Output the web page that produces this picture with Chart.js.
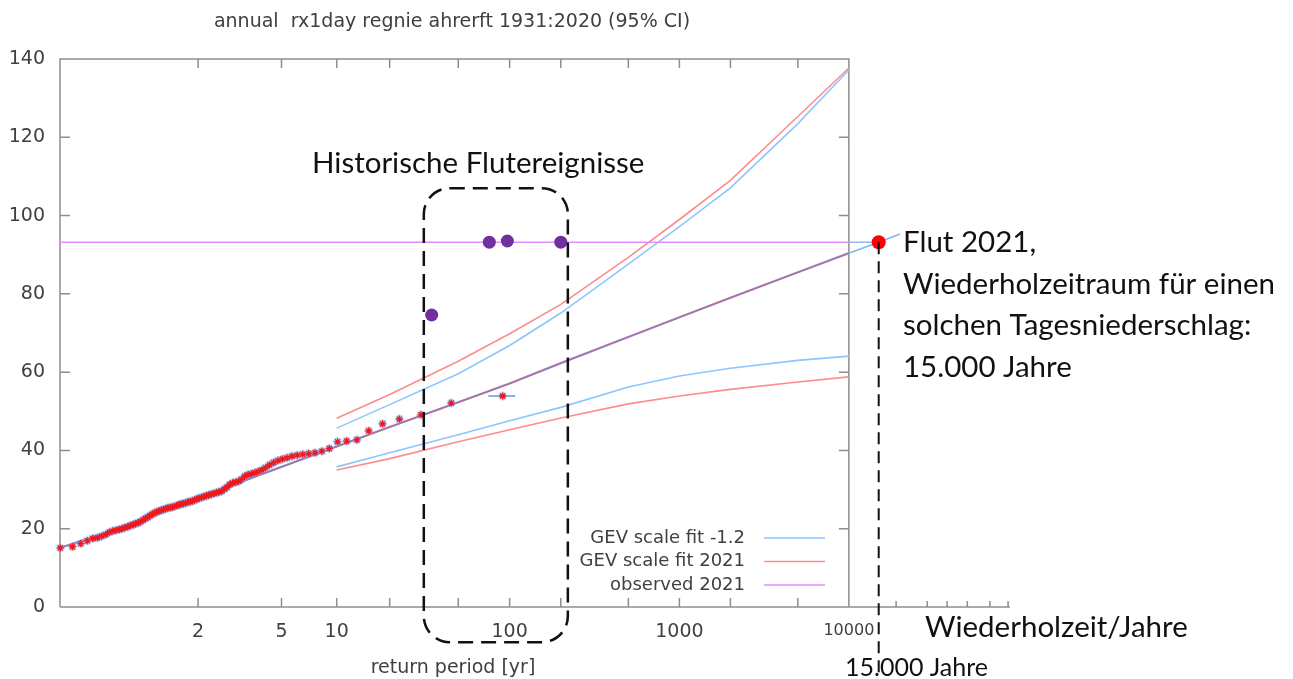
<!DOCTYPE html>
<html>
<head>
<meta charset="utf-8">
<script src="https://cdn.jsdelivr.net/npm/chart.js@4.4.0/dist/chart.umd.min.js"></script>
<style>
  html, body { margin: 0; padding: 0; background: #fff; }
</style>
</head>
<body>
<canvas id="chart" width="1293" height="679"></canvas>
<script>
// Gumbel plot: x = reduced variate of the return period
const rv = T => -Math.log(-Math.log(1 - 1 / T));

// observed annual maxima (sorted), plotted at rank i / (n+1)
const observedValues = [
  15.1, 15.4, 16.2, 16.9, 17.5, 17.7, 18.1, 18.5, 19.1, 19.4,
  19.6, 19.8, 20.0, 20.3, 20.5, 20.8, 21.0, 21.3, 21.5, 21.8,
  22.2, 22.6, 22.9, 23.3, 23.7, 24.0, 24.3, 24.5, 24.7, 24.9,
  25.1, 25.3, 25.4, 25.5, 25.7, 25.9, 26.1, 26.3, 26.4, 26.6,
  26.8, 26.9, 27.1, 27.3, 27.6, 27.8, 28.0, 28.2, 28.4, 28.6,
  28.8, 29.0, 29.2, 29.4, 29.6, 30.1, 30.6, 31.3, 31.7, 31.9,
  32.1, 32.6, 33.4, 33.8, 34.0, 34.3, 34.6, 35.0, 35.6, 36.3,
  36.9, 37.4, 37.8, 38.1, 38.5, 38.8, 39.0, 39.2, 39.4, 39.8,
  40.5, 42.2, 42.4, 42.7, 45.0, 46.8, 48.0, 49.1, 52.1, 53.9
];
const maxErrPeriods = [75, 108];

// GEV fits
const fitPeriods = [1.01, 1.1, 1.5, 2, 3, 5, 10, 20, 50, 100, 200, 500, 1000, 2000, 5000, 10000];
const fitCentral = [15.0, 19.0, 24.6, 27.8, 31.6, 35.8, 41.0, 46.0, 52.3, 57.1, 62.3, 69.0, 74.0, 79.0, 85.5, 90.4];
const extPeriods = [10000, 15000, 20000];
const extCentral = [90.4, 93.2, 95.3];

const ciPeriods = [10, 20, 50, 100, 200, 500, 1000, 2000, 5000, 10000];
const blueUpper = [45.7, 51.7, 59.6, 66.8, 75.1, 87.6, 97.2, 107.1, 123.5, 137.2];
const redUpper  = [48.2, 54.3, 62.8, 69.8, 77.3, 89.3, 99.0, 109.0, 125.3, 137.7];
const blueLower = [35.8, 39.4, 44.0, 47.6, 51.0, 56.2, 59.0, 61.0, 63.0, 64.1];
const redLower  = [35.0, 37.9, 42.2, 45.3, 48.3, 51.9, 53.9, 55.6, 57.5, 58.8];

// observed 2021 and historic floods
const observedPeriods = [1.01, 10000];
const observed2021 = 93.2;
const flood2021Period = 15000;
const historicPeriods = [35, 76, 97, 200];
const historicValues = [74.6, 93.2, 93.5, 93.2];

// axes
const yTickValues = [0, 20, 40, 60, 80, 100, 120, 140];
const xTickPeriods = [2, 5, 10, 20, 50, 100, 200, 500, 1000, 2000, 5000, 10000];
const xTickLabels = ['2', '5', '10', '', '', '100', '', '', '1000', '', '', '10000'];
const extTickPeriods = [19000, 29000, 38000, 50000, 68000, 87000];
const legendLabels = ['GEV scale fit -1.2', 'GEV scale fit 2021', 'observed 2021'];
const boxPeriods = [31.5, 220];
const boxValues = [-9, 107];

const BLUE = '#8ec5ff', RED = '#ff8c8c', VIOLET = '#e48cff', PURPLE = '#7030a0';
const pts = (xs, ys) => xs.map((T, i) => ({ x: rv(T), y: Array.isArray(ys) ? ys[i] : ys }));
const line = (data, color, w) => ({ data, showLine: true, borderColor: color, borderWidth: w, pointRadius: 0, fill: false });

const obsPts = observedValues.map((v, i) => ({ x: rv((observedValues.length + 1) / (observedValues.length - i)), y: v }));

const datasets = [
  line(pts(ciPeriods, blueUpper), BLUE, 1.6),
  line(pts(ciPeriods, redUpper), RED, 1.6),
  line(pts(ciPeriods, blueLower), BLUE, 1.6),
  line(pts(ciPeriods, redLower), RED, 1.6),
  line(pts(extPeriods, extCentral), '#7fb6f0', 1.6),
  line(pts(fitPeriods, fitCentral), '#7fa6f0', 2.2),
  line(pts(fitPeriods, fitCentral), 'rgba(225,70,90,0.65)', 1.5),
  line(pts(observedPeriods, observed2021), VIOLET, 1.6),
  line(pts([10000, flood2021Period], observed2021), '#7fb6f0', 1.4),
  line(pts(maxErrPeriods, observedValues[observedValues.length - 1]), '#5b9be8', 1.5),
  { data: obsPts, pointStyle: 'star', pointRadius: 4.5, borderColor: 'rgba(120,170,255,0.55)', borderWidth: 2.5, showLine: false },
  { data: obsPts, pointStyle: 'star', pointRadius: 3.5, borderColor: '#f01818', borderWidth: 1.3, showLine: false },
  { data: pts(historicPeriods, historicValues), pointRadius: 6.5, backgroundColor: PURPLE, borderColor: PURPLE, borderWidth: 0, showLine: false },
  { data: pts([flood2021Period], observed2021), pointRadius: 7, backgroundColor: '#ff0000', borderColor: '#ff0000', borderWidth: 0, showLine: false }
];
datasets.forEach((d, i) => { d.order = datasets.length - i; d.clip = false; });
datasets.slice(0, 8).forEach(d => { d.clip = undefined; });

const GRAY = '#404040';
const overlay = {
  id: 'overlay',
  beforeDatasetsDraw(chart) {
    const { ctx, scales: { x, y } } = chart;
    const L = x.left, R = x.getPixelForValue(rv(10000)), T = y.top, B = y.bottom;
    ctx.save();
    ctx.strokeStyle = '#8e8e8e';
    ctx.lineWidth = 1.5;
    ctx.beginPath();
    ctx.moveTo(L, B); ctx.lineTo(L, T); ctx.lineTo(R, T); ctx.lineTo(R, B);
    ctx.moveTo(L, B); ctx.lineTo(x.right, B);
    yTickValues.forEach(v => {
      const py = y.getPixelForValue(v);
      ctx.moveTo(L, py); ctx.lineTo(L + 10, py);
      ctx.moveTo(R, py); ctx.lineTo(R - 10, py);
    });
    xTickPeriods.forEach(p => {
      const px = x.getPixelForValue(rv(p));
      ctx.moveTo(px, B); ctx.lineTo(px, B - 9);
      ctx.moveTo(px, T); ctx.lineTo(px, T + 9);
    });
    extTickPeriods.forEach(p => {
      const px = x.getPixelForValue(rv(p));
      ctx.moveTo(px, B); ctx.lineTo(px, B - 6);
    });
    ctx.stroke();
    ctx.restore();
  },
  afterDraw(chart) {
    const { ctx, scales: { x, y } } = chart;
    ctx.save();
    // title and axis label
    ctx.fillStyle = GRAY;
    ctx.textAlign = 'center';
    ctx.textBaseline = 'alphabetic';
    ctx.font = '19px "DejaVu Sans"';
    ctx.fillText('annual  rx1day regnie ahrerft 1931:2020 (95% CI)', 452, 27);
    ctx.fillText('return period [yr]', 453, 673);
    // legend
    const colors = [BLUE, RED, VIOLET];
    ctx.font = '18px "DejaVu Sans"';
    ctx.textAlign = 'right';
    ctx.textBaseline = 'middle';
    legendLabels.forEach((lab, i) => {
      const ly = 538 + i * 23.5;
      ctx.fillStyle = GRAY;
      ctx.fillText(lab, 745, ly);
      ctx.strokeStyle = colors[i];
      ctx.lineWidth = 1.6;
      ctx.beginPath(); ctx.moveTo(764, ly); ctx.lineTo(825, ly); ctx.stroke();
    });
    // dashed box around historic floods
    const bx1 = x.getPixelForValue(rv(boxPeriods[0])), bx2 = x.getPixelForValue(rv(boxPeriods[1]));
    const by1 = y.getPixelForValue(boxValues[1]), by2 = y.getPixelForValue(boxValues[0]);
    ctx.strokeStyle = '#111';
    ctx.lineWidth = 2.5;
    ctx.setLineDash([15, 8]);
    ctx.beginPath();
    ctx.roundRect(bx1, by1, bx2 - bx1, by2 - by1, 26);
    ctx.stroke();
    // dashed line from 2021 flood down
    const fx = x.getPixelForValue(rv(flood2021Period)), fy = y.getPixelForValue(observed2021);
    ctx.lineWidth = 2;
    ctx.setLineDash([12, 7]);
    ctx.beginPath(); ctx.moveTo(fx, fy); ctx.lineTo(fx, 679); ctx.stroke();
    ctx.setLineDash([]);
    // annotations
    ctx.fillStyle = '#111';
    ctx.textAlign = 'left';
    ctx.textBaseline = 'alphabetic';
    ctx.font = '29.5px Lato';
    ctx.fillText('Historische Flutereignisse', 312, 173);
    ['Flut 2021,', 'Wiederholzeitraum für einen', 'solchen Tagesniederschlag:', '15.000 Jahre']
      .forEach((t, i) => ctx.fillText(t, 903, 252 + i * 41.5));
    ctx.fillText('Wiederholzeit/Jahre', 925, 637);
    ctx.font = '25px Lato';
    ctx.fillText('15.000 Jahre', 845, 676);
    ctx.restore();
  }
};

new Chart(document.getElementById('chart'), {
  type: 'scatter',
  data: { datasets },
  options: {
    responsive: false,
    animation: false,
    layout: { padding: { left: 0, right: 283, top: 59, bottom: 32 } },
    plugins: { legend: { display: false }, title: { display: false }, tooltip: { enabled: false } },
    scales: {
      x: {
        type: 'linear',
        min: -1.51,
        max: 11.40,
        afterFit: s => { s.height = 40; },
        afterBuildTicks: s => { s.ticks = xTickPeriods.map(p => ({ value: rv(p) })); },
        grid: { display: false, drawTicks: false },
        border: { display: false },
        ticks: {
          autoSkip: false, maxRotation: 0, padding: 14, color: GRAY,
          font: ctx => ({ family: 'DejaVu Sans', size: ctx.index === xTickLabels.length - 1 ? 16 : 19 }),
          callback: (v, i) => xTickLabels[i]
        }
      },
      y: {
        min: 0,
        max: 140,
        afterFit: s => { s.width = 60; },
        afterBuildTicks: s => { s.ticks = yTickValues.map(v => ({ value: v })); },
        grid: { display: false, drawTicks: false },
        border: { display: false },
        ticks: { padding: 15, color: GRAY, font: { family: 'DejaVu Sans', size: 19 } }
      }
    }
  },
  plugins: [overlay]
});
</script>
</body>
</html>
